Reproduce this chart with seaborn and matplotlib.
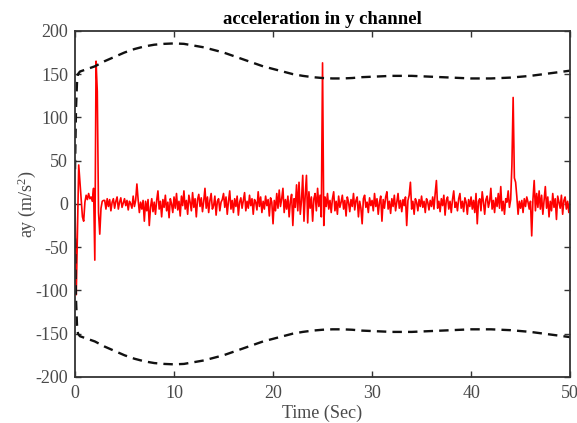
import numpy as np
import pandas as pd
import matplotlib
matplotlib.use("Agg")
import matplotlib.pyplot as plt
import seaborn as sns

# --- data ---
dt = 0.125  # sample step of the red signal (s)
ay = [
    0, -105, -30, 45, 25, 5, -15, -20,        # 0 s
    2, 10, 5, 12, 6, 8, 3, 18,                # 1
    -65, 165, 130, -10, -35, -5, 3, 4,        # 2
    4, -6, 6, -3, 5, -8, 2, 6,                # 3
    -5, 3, 8, -6, 2, 7, -4, 1,                # 4
    6, -2, 4, -7, 3, 0, -5, 9,                # 5
    -3, 4, 23, 5, -10, 2, -6, 4,              # 6
    -20, 3, -8, 5, -25, -4, 6, -9,            # 7
    2, -12, 4, 15, -6, 3, -15, 5,             # 8
    -4, 10, -8, 2, -16, 6, 0, -10,            # 9
    8, -5, 12, -7, 3, -14, 9, -2,             # 10
    15, -6, 4, -12, 10, 2, -8, 13,            # 11
    -4, 6, -15, 5, 11, -3, 7, -9,             # 12
    3, 18, -5, 8, -10, 4, 12, -6,             # 13
    -2, 9, -13, 3, 6, -8, 2, 5,               # 14
    12, -4, 8, -12, 3, 15, -6, 4,             # 15
    -10, 6, -3, 9, -13, 2, 7, -5,             # 16
    4, 13, -8, 3, -5, 10, -2, 6,              # 17
    -12, 5, 2, -7, 14, -3, 8, -10,            # 18
    3, -6, 9, -2, 5, -14, 7, 2,               # 19
    -23, 4, -8, 12, -5, 16, -3, 6,            # 20
    18, -10, 5, -6, 9, -15, 3, 11,            # 21
    -25, 6, -4, 22, -8, 25, -12, 4,           # 22
    33, -20, 10, 33, -22, 14, -5, 8,          # 23
    -20, 6, 12, -8, 18, -3, 10, -15,          # 24
    163, -25, 8, -3, 12, -6, 4, -10,          # 25
    6, 14, -8, 3, -12, 9, -4, 2,              # 26
    10, -6, 4, -14, 8, 2, -9, 5,              # 27
    -3, 12, -7, 4, 8, -15, 3, -5,             # 28
    -23, 6, 10, -4, 2, -10, 7, -2,            # 29
    4, -8, 12, -3, 6, -12, 2, 9,              # 30
    -20, 5, -5, 8, 14, -6, 3, -11,            # 31
    6, -3, 10, -8, 2, 12, -5, 4,              # 32
    -9, 5, -2, 8, -25, 4, 10, 25,             # 33
    -6, 3, -12, 6, 2, -8, 5, -3,              # 34
    9, -4, 3, -10, 6, 2, -7, 4,               # 35
    -3, 8, -6, 12, 27, -5, 3, -9,             # 36
    6, -2, 10, -13, 4, 8, -6, 3,              # 37
    -10, 5, 15, -4, 2, -8, 6, 12,             # 38
    -5, 3, -9, 7, 2, -12, 5, -3,              # 39
    8, -6, 4, -10, 12, -23, 3, 6,             # 40
    -8, 14, 2, -12, 5, 9, -4, 3,              # 41
    18, -6, 4, -10, 7, -3, 12, -5,            # 42
    20, -8, 3, -12, 6, 2, 15, -4,             # 43
    5, 45, 123, 30, 25, 8, -12, 3,            # 44
    -5, 4, -10, 6, -3, 8, 2, -6,              # 45
    3, -37, 5, 27, -8, 12, -4, 15,            # 46
    -6, 10, -12, 4, 20, -5, 8, -15,           # 47
    3, -8, 12, -4, 6, -18, 9, 2,              # 48
    -5, 10, -12, 4, 8, -6, 3, -10,            # 49
    5,                                        # 50
]

env_t = [0, 0.1, 0.2, 0.3, 0.5, 1, 2, 3, 4, 5, 6, 7, 8, 9, 10, 11, 12, 13,
         14, 15, 16, 17, 18, 19, 20, 21, 22, 23, 24, 25, 26, 27, 28, 29, 30,
         31, 32, 33, 34, 35, 36, 37, 38, 39, 40, 41, 42, 43, 44, 45, 46, 47,
         48, 49, 50]
env_upper = [40, 110, 140, 150, 153, 155, 159, 165, 170, 175, 179, 182, 184,
             185, 185.5, 185, 183, 181, 178, 175, 171, 167, 163, 159, 156,
             153, 150, 148, 146.5, 145.5, 145, 145, 145.5, 146.5, 147, 147.5,
             148, 148, 148, 147.5, 147, 146.5, 146, 145.5, 145, 145, 145,
             145.5, 146, 147, 148, 149.5, 151, 152.5, 154]
env_lower = [-40, -110, -140, -150, -153, -155, -159, -165, -170, -175, -179,
             -182, -184, -185, -185.5, -185, -183, -181, -178, -175, -171,
             -167, -163, -159, -156, -153, -150, -148, -146.5, -145.5, -145,
             -145, -145.5, -146.5, -147, -147.5, -148, -148, -148, -147.5,
             -147, -146.5, -146, -145.5, -145, -145, -145, -145.5, -146, -147,
             -148, -149.5, -151, -152.5, -154]

x_ticks = [0, 10, 20, 30, 40, 50]
y_ticks = [-200, -150, -100, -50, 0, 50, 100, 150, 200]

sig = pd.DataFrame({"t": np.arange(len(ay)) * dt, "ay": ay})
env = pd.DataFrame({"t": env_t, "up": env_upper, "lo": env_lower})

# --- style (MATLAB look) ---
sns.set_theme(style="white")
ink = "#333333"
txt = "#4a4a4a"
plt.rcParams.update({
    "font.family": ["Liberation Serif", "DejaVu Serif"],
    "mathtext.fontset": "custom",
    "mathtext.rm": "Liberation Serif",
    "mathtext.it": "Liberation Serif:italic",
    "axes.unicode_minus": False,
    "axes.edgecolor": ink,
    "axes.linewidth": 1.3,
    "xtick.color": ink,
    "ytick.color": ink,
    "xtick.labelcolor": txt,
    "ytick.labelcolor": txt,
    "axes.labelcolor": txt,
    "xtick.direction": "in",
    "ytick.direction": "in",
})

fig = plt.figure(figsize=(5.77, 4.23), dpi=100)
ax = fig.add_axes([0.130, 0.109, 0.858, 0.818])

sns.lineplot(data=sig, x="t", y="ay", ax=ax, color="red", lw=1.2,
             estimator=None, sort=False)
for col in ["up", "lo"]:
    sns.lineplot(data=env, x="t", y=col, ax=ax, color="#111111", lw=1.7,
                 estimator=None, sort=False, dashes=False,
                 linestyle=(0, (4, 2.6)))

ax.set_xlim(0, 50)
ax.set_ylim(-200, 200)
ax.set_xticks(x_ticks)
ax.set_yticks(y_ticks)
ax.tick_params(which="both", length=4, width=1.0, labelsize=13,
               top=True, right=True, bottom=True, left=True)
ax.tick_params(axis="x", pad=6)
ax.tick_params(axis="y", pad=5)
for s in ax.spines.values():
    s.set_visible(True)

ax.set_title("acceleration in y channel", fontsize=13.5, fontweight="bold",
             color="black", pad=5)
ax.set_xlabel("Time (Sec)", fontsize=13, labelpad=2)
ax.set_ylabel("ay (m/s$^2$)", fontsize=13, labelpad=-2)

fig.savefig("out.png", dpi=100)
